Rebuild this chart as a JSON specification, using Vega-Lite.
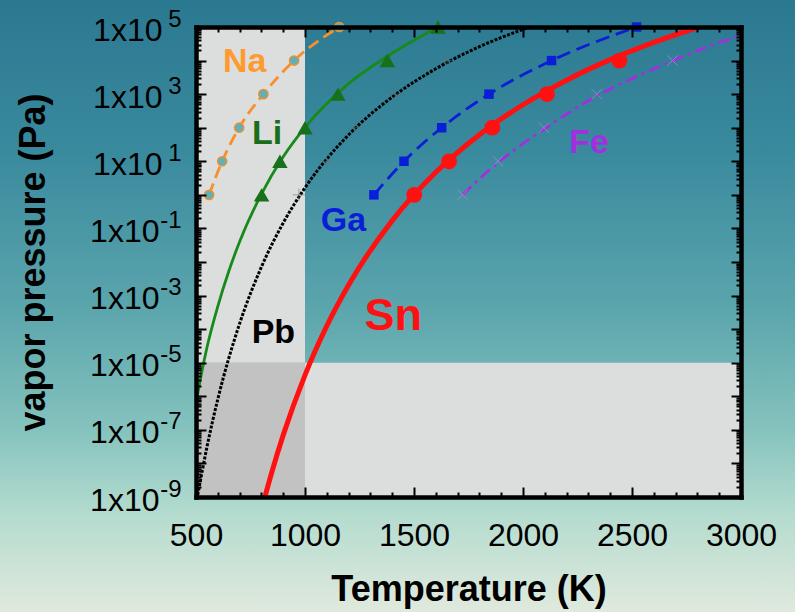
{
"$schema":"https://vega.github.io/schema/vega-lite/v6.json",
"width":545,"height":470,
"autosize":{"type":"none"},
"padding":{"left":196,"top":27,"right":54,"bottom":115},
"background":"#5ca6ad",
"config":{"font":"Liberation Sans","view":{"stroke":null},"axis":{"zindex":2,"grid":false,"labelColor":"black","titleColor":"black","tickColor":"black","domainColor":"black"}},
"resolve":{"axis":{"x":"independent","y":"independent"},"scale":{"color":"independent"}},
"datasets":{
"bg":[{"part":"backdrop"}],
"shade":[
{"zone":"light","T1":500,"T2":1000,"P1":1e-5,"P2":1e5},
{"zone":"light","T1":1000,"T2":3000,"P1":1e-9,"P2":1e-5},
{"zone":"dark","T1":500,"T2":1000,"P1":1e-9,"P2":1e-5}],
"lines":[
{"s":"Na","T":560,"P":1},{"s":"Na","T":620,"P":10},{"s":"Na","T":698,"P":100},{"s":"Na","T":809,"P":1000},{"s":"Na","T":950,"P":10000},{"s":"Na","T":1157,"P":100000},
{"s":"Li","T":500,"P":6e-7},{"s":"Li","T":520,"P":3.2e-6},{"s":"Li","T":550,"P":2.8e-5},{"s":"Li","T":600,"P":4.8e-4},{"s":"Li","T":650,"P":5.2e-3},{"s":"Li","T":700,"P":0.04},{"s":"Li","T":800,"P":1.05},{"s":"Li","T":900,"P":13.6},{"s":"Li","T":1000,"P":102},{"s":"Li","T":1200,"P":2050},{"s":"Li","T":1400,"P":16500},{"s":"Li","T":1610,"P":100000},
{"s":"Pb","T":508,"P":1.15e-9},{"s":"Pb","T":550,"P":3.03e-8},{"s":"Pb","T":600,"P":8.2e-7},{"s":"Pb","T":700,"P":1.46e-4},{"s":"Pb","T":800,"P":7.1e-3},{"s":"Pb","T":900,"P":0.146},{"s":"Pb","T":1000,"P":1.63},{"s":"Pb","T":1200,"P":61.4},{"s":"Pb","T":1400,"P":819},{"s":"Pb","T":1600,"P":5700},{"s":"Pb","T":1800,"P":25900},{"s":"Pb","T":2030,"P":100000},
{"s":"Ga","T":1316,"P":1},{"s":"Ga","T":1454,"P":10},{"s":"Ga","T":1627,"P":100},{"s":"Ga","T":1844,"P":1000},{"s":"Ga","T":2131,"P":10000},{"s":"Ga","T":2521,"P":100000},
{"s":"Sn","T":816,"P":1e-9},{"s":"Sn","T":850,"P":6.17e-9},{"s":"Sn","T":900,"P":6.97e-8},{"s":"Sn","T":1000,"P":4.29e-6},{"s":"Sn","T":1100,"P":1.25e-4},{"s":"Sn","T":1200,"P":2.07e-3},{"s":"Sn","T":1400,"P":0.171},{"s":"Sn","T":1600,"P":4.69},{"s":"Sn","T":1800,"P":61.7},{"s":"Sn","T":2000,"P":483},{"s":"Sn","T":2200,"P":2610},{"s":"Sn","T":2400,"P":10640},{"s":"Sn","T":2600,"P":34900},{"s":"Sn","T":2800,"P":96600},{"s":"Sn","T":2810,"P":101400},
{"s":"Fe","T":1723,"P":1},{"s":"Fe","T":1885,"P":9.1},{"s":"Fe","T":2000,"P":33.5},{"s":"Fe","T":2096,"P":90},{"s":"Fe","T":2200,"P":255},{"s":"Fe","T":2338,"P":880},{"s":"Fe","T":2500,"P":2900},{"s":"Fe","T":2686,"P":9800},{"s":"Fe","T":2800,"P":19700},{"s":"Fe","T":3000,"P":56900}],
"pts":[
{"s":"Na","T":560,"P":1},{"s":"Na","T":620,"P":10},{"s":"Na","T":698,"P":100},{"s":"Na","T":809,"P":1000},{"s":"Na","T":950,"P":10000},{"s":"Na","T":1157,"P":100000},
{"s":"Li","T":801,"P":1},{"s":"Li","T":885,"P":10},{"s":"Li","T":1000,"P":100},{"s":"Li","T":1151,"P":1000},{"s":"Li","T":1378,"P":10000},{"s":"Li","T":1610,"P":100000},
{"s":"Pb","T":972,"P":1},{"s":"Pb","T":1100,"P":10},{"s":"Pb","T":1229,"P":100},{"s":"Pb","T":1413,"P":1000},{"s":"Pb","T":1652,"P":10000},{"s":"Pb","T":2030,"P":100000},
{"s":"Ga","T":1316,"P":1},{"s":"Ga","T":1454,"P":10},{"s":"Ga","T":1627,"P":100},{"s":"Ga","T":1844,"P":1000},{"s":"Ga","T":2131,"P":10000},{"s":"Ga","T":2521,"P":100000},
{"s":"Sn","T":1501,"P":1},{"s":"Sn","T":1661,"P":10},{"s":"Sn","T":1859,"P":100},{"s":"Sn","T":2110,"P":1000},{"s":"Sn","T":2442,"P":10000},
{"s":"Fe","T":1723,"P":1},{"s":"Fe","T":1885,"P":10},{"s":"Fe","T":2096,"P":100},{"s":"Fe","T":2338,"P":1000},{"s":"Fe","T":2686,"P":10000}],
"labels":[
{"name":"Na","T":723,"P":9250},
{"name":"Li","T":826,"P":64},
{"name":"Pb","T":855,"P":7.7e-5},
{"name":"Ga","T":1176,"P":0.169},
{"name":"Fe","T":2303,"P":35},
{"name":"Sn","T":1405,"P":2.5e-4}]
},
"layer":[
{"data":{"name":"bg"},
 "mark":{"type":"rect","clip":false,"zindex":0,"color":{"gradient":"linear","x1":0,"y1":0,"x2":0,"y2":1,"stops":[{"offset":0,"color":"#2a7890"},{"offset":0.25,"color":"#3a8a9e"},{"offset":0.5,"color":"#5ca6ad"},{"offset":0.68,"color":"#84c2bd"},{"offset":0.82,"color":"#b5dccf"},{"offset":1,"color":"#e9ece0"}]}},
 "encoding":{
  "x":{"datum":-500,"type":"quantitative","scale":{"domain":[500,3000],"nice":false,"zero":false},
   "axis":{"orient":"bottom","zindex":2,"values":[500,1000,1500,2000,2500,3000],"format":"d","ticks":false,"domain":false,"labelFontSize":32,"labelPadding":23,"labelFlush":false,"labelOverlap":false,"labelBound":false,"title":"Temperature (K)","titleFontSize":36,"titleFontWeight":"bold","titlePadding":21}},
  "x2":{"datum":3400},
  "y":{"datum":1e6,"type":"quantitative","scale":{"type":"log","domain":[1e-9,1e5],"nice":false},
   "axis":{"orient":"left","zindex":2,"values":[100000,1000,10,0.1,0.001,1e-5,1e-7,1e-9],"ticks":false,"domain":false,"labelExpr":"'1x10'","labelFontSize":32,"labelPadding":{"condition":{"test":"datum.value < 1","value":37},"value":34},"labelOffset":3,"labelAlign":"right","labelBaseline":"middle","labelFlush":false,"labelOverlap":false,"labelBound":false,"title":"vapor pressure (Pa)","titleFontSize":36,"titleFontWeight":"bold","titlePadding":37}},
  "y2":{"datum":1e-13}}},
{"data":{"name":"shade"},
 "mark":{"type":"rect"},
 "encoding":{
  "x":{"field":"T1","type":"quantitative","scale":{"domain":[500,3000],"nice":false,"zero":false},
   "axis":{"orient":"bottom","zindex":2,"values":[500,600,700,800,900,1000,1100,1200,1300,1400,1500,1600,1700,1800,1900,2000,2100,2200,2300,2400,2500,2600,2700,2800,2900,3000],"labels":false,"domain":true,"domainWidth":4.5,"domainCap":"square","tickWidth":2,"tickSize":{"condition":{"test":"datum.value % 500 === 0","value":-10},"value":-5},"title":null}},
  "x2":{"field":"T2"},
  "y":{"field":"P1","type":"quantitative","scale":{"type":"log","domain":[1e-9,1e5],"nice":false},
   "axis":{"orient":"left","zindex":2,"values":[100000,1000,10,0.1,0.001,1e-5,1e-7,1e-9],"ticks":false,"domain":false,"labelExpr":"(datum.value < 1 ? '-' : '') + abs(round(log(datum.value)/LN10))","labelFontSize":24,"labelPadding":15,"labelOffset":-8,"labelAlign":"right","labelBaseline":"middle","labelFlush":false,"labelOverlap":false,"labelBound":false,"title":null}},
  "y2":{"field":"P2"},
  "color":{"field":"zone","type":"nominal","scale":{"domain":["light","dark"],"range":["#dcdedd","#c2c2c2"]},"legend":null}}},
{"data":{"name":"lines"},"transform":[{"filter":"datum.s === 'Na'"}],
 "mark":{"type":"line","color":"#f7902a","strokeWidth":2.8,"strokeDash":[12,6],"interpolate":"monotone","clip":true},
 "encoding":{"x":{"field":"T","type":"quantitative","scale":{"domain":[500,3000],"nice":false,"zero":false},"axis":null},"y":{"field":"P","type":"quantitative","scale":{"type":"log","domain":[1e-9,1e5],"nice":false},"axis":null},"order":{"field":"T"}}},
{"data":{"name":"lines"},"transform":[{"filter":"datum.s === 'Li'"}],
 "mark":{"type":"line","color":"#178a1a","strokeWidth":2.8,"interpolate":"monotone","clip":true},
 "encoding":{"x":{"field":"T","type":"quantitative","scale":{"domain":[500,3000],"nice":false,"zero":false},"axis":null},"y":{"field":"P","type":"quantitative","scale":{"type":"log","domain":[1e-9,1e5],"nice":false},"axis":null},"order":{"field":"T"}}},
{"data":{"name":"lines"},"transform":[{"filter":"datum.s === 'Pb'"}],
 "mark":{"type":"line","color":"#000000","strokeWidth":3,"strokeDash":[3,1.5],"interpolate":"monotone","clip":true},
 "encoding":{"x":{"field":"T","type":"quantitative","scale":{"domain":[500,3000],"nice":false,"zero":false},"axis":null},"y":{"field":"P","type":"quantitative","scale":{"type":"log","domain":[1e-9,1e5],"nice":false},"axis":null},"order":{"field":"T"}}},
{"data":{"name":"lines"},"transform":[{"filter":"datum.s === 'Ga'"}],
 "mark":{"type":"line","color":"#0a1ed8","strokeWidth":2.8,"strokeDash":[14,7],"interpolate":"monotone","clip":true},
 "encoding":{"x":{"field":"T","type":"quantitative","scale":{"domain":[500,3000],"nice":false,"zero":false},"axis":null},"y":{"field":"P","type":"quantitative","scale":{"type":"log","domain":[1e-9,1e5],"nice":false},"axis":null},"order":{"field":"T"}}},
{"data":{"name":"lines"},"transform":[{"filter":"datum.s === 'Sn'"}],
 "mark":{"type":"line","color":"#ff1111","strokeWidth":5,"interpolate":"monotone","clip":true},
 "encoding":{"x":{"field":"T","type":"quantitative","scale":{"domain":[500,3000],"nice":false,"zero":false},
   "axis":{"orient":"top","zindex":2,"values":[500,600,700,800,900,1000,1100,1200,1300,1400,1500,1600,1700,1800,1900,2000,2100,2200,2300,2400,2500,2600,2700,2800,2900,3000],"labels":false,"domain":true,"domainWidth":4.5,"domainCap":"square","tickWidth":2,"tickSize":{"condition":{"test":"datum.value % 500 === 0","value":-10},"value":-5},"title":null}},
  "y":{"field":"P","type":"quantitative","scale":{"type":"log","domain":[1e-9,1e5],"nice":false},
   "axis":{"orient":"left","zindex":2,"values":[1e-9,2e-9,3e-9,4e-9,5e-9,6e-9,7e-9,8e-9,9e-9,1e-8,2e-8,3e-8,4e-8,5e-8,6e-8,7e-8,8e-8,9e-8,1e-7,2e-7,3e-7,4e-7,5e-7,6e-7,7e-7,8e-7,9e-7,1e-6,2e-6,3e-6,4e-6,5e-6,6e-6,7e-6,8e-6,9e-6,1e-5,2e-5,3e-5,4e-5,5e-5,6e-5,7e-5,8e-5,9e-5,1e-4,2e-4,3e-4,4e-4,5e-4,6e-4,7e-4,8e-4,9e-4,0.001,0.002,0.003,0.004,0.005,0.006,0.007,0.008,0.009,0.01,0.02,0.03,0.04,0.05,0.06,0.07,0.08,0.09,0.1,0.2,0.3,0.4,0.5,0.6,0.7,0.8,0.9,1,2,3,4,5,6,7,8,9,10,20,30,40,50,60,70,80,90,100,200,300,400,500,600,700,800,900,1000,2000,3000,4000,5000,6000,7000,8000,9000,10000,20000,30000,40000,50000,60000,70000,80000,90000,100000],"labels":false,"domain":true,"domainWidth":4.5,"domainCap":"square","tickWidth":2,"tickSize":{"condition":{"test":"abs(log(datum.value)/LN10 - round(log(datum.value)/LN10)) < 0.001","value":-10},"value":-5},"title":null}},
  "order":{"field":"T"}}},
{"data":{"name":"lines"},"transform":[{"filter":"datum.s === 'Fe'"}],
 "mark":{"type":"line","color":"#a32ee0","strokeWidth":2.8,"strokeDash":[12,5,3,5],"interpolate":"monotone","clip":true},
 "encoding":{"x":{"field":"T","type":"quantitative","scale":{"domain":[500,3000],"nice":false,"zero":false},"axis":null},"y":{"field":"P","type":"quantitative","scale":{"type":"log","domain":[1e-9,1e5],"nice":false},"axis":null},"order":{"field":"T"}}},
{"data":{"name":"pts"},"transform":[{"filter":"datum.s === 'Pb'"}],
 "mark":{"type":"point","shape":"M-1,0L1,0M0,-1L0,1","size":150,"filled":false,"stroke":"#6e6e6e","strokeWidth":1,"opacity":0.6},
 "encoding":{"x":{"field":"T","type":"quantitative","scale":{"domain":[500,3000],"nice":false,"zero":false},"axis":null},"y":{"field":"P","type":"quantitative","scale":{"type":"log","domain":[1e-9,1e5],"nice":false},"axis":null}}},
{"data":{"name":"pts"},"transform":[{"filter":"datum.s === 'Fe'"}],
 "mark":{"type":"point","shape":"M-1,-1L1,1M-1,1L1,-1","size":110,"filled":false,"stroke":"#b58ad6","strokeWidth":1,"opacity":0.7},
 "encoding":{"x":{"field":"T","type":"quantitative","scale":{"domain":[500,3000],"nice":false,"zero":false},"axis":null},"y":{"field":"P","type":"quantitative","scale":{"type":"log","domain":[1e-9,1e5],"nice":false},"axis":null}}},
{"data":{"name":"pts"},"transform":[{"filter":"datum.s === 'Na'"}],
 "mark":{"type":"point","shape":"circle","size":85,"filled":true,"fill":"#5fb0bd","stroke":"#f0902a","strokeWidth":1.5,"opacity":1},
 "encoding":{"x":{"field":"T","type":"quantitative","scale":{"domain":[500,3000],"nice":false,"zero":false},"axis":null},"y":{"field":"P","type":"quantitative","scale":{"type":"log","domain":[1e-9,1e5],"nice":false},"axis":null}}},
{"data":{"name":"pts"},"transform":[{"filter":"datum.s === 'Li'"}],
 "mark":{"type":"point","shape":"triangle-up","size":240,"filled":true,"color":"#17701a","opacity":1},
 "encoding":{"x":{"field":"T","type":"quantitative","scale":{"domain":[500,3000],"nice":false,"zero":false},"axis":null},"y":{"field":"P","type":"quantitative","scale":{"type":"log","domain":[1e-9,1e5],"nice":false},"axis":null}}},
{"data":{"name":"pts"},"transform":[{"filter":"datum.s === 'Ga'"}],
 "mark":{"type":"point","shape":"square","size":90,"filled":true,"color":"#0a1ed8","opacity":1},
 "encoding":{"x":{"field":"T","type":"quantitative","scale":{"domain":[500,3000],"nice":false,"zero":false},"axis":null},"y":{"field":"P","type":"quantitative","scale":{"type":"log","domain":[1e-9,1e5],"nice":false},"axis":null}}},
{"data":{"name":"pts"},"transform":[{"filter":"datum.s === 'Sn'"}],
 "mark":{"type":"point","shape":"circle","size":250,"filled":true,"color":"#ff1111","opacity":1},
 "encoding":{"x":{"field":"T","type":"quantitative","scale":{"domain":[500,3000],"nice":false,"zero":false},"axis":null},"y":{"field":"P","type":"quantitative","scale":{"type":"log","domain":[1e-9,1e5],"nice":false},"axis":null}}},
{"data":{"name":"labels"},"transform":[{"filter":"datum.name !== 'Sn'"}],
 "mark":{"type":"text","fontWeight":"bold","fontSize":34,"align":"center","baseline":"middle"},
 "encoding":{"x":{"field":"T","type":"quantitative","scale":{"domain":[500,3000],"nice":false,"zero":false},"axis":null},
  "y":{"field":"P","type":"quantitative","scale":{"type":"log","domain":[1e-9,1e5],"nice":false},
   "axis":{"orient":"right","zindex":2,"values":[1e-9,2e-9,3e-9,4e-9,5e-9,6e-9,7e-9,8e-9,9e-9,1e-8,2e-8,3e-8,4e-8,5e-8,6e-8,7e-8,8e-8,9e-8,1e-7,2e-7,3e-7,4e-7,5e-7,6e-7,7e-7,8e-7,9e-7,1e-6,2e-6,3e-6,4e-6,5e-6,6e-6,7e-6,8e-6,9e-6,1e-5,2e-5,3e-5,4e-5,5e-5,6e-5,7e-5,8e-5,9e-5,1e-4,2e-4,3e-4,4e-4,5e-4,6e-4,7e-4,8e-4,9e-4,0.001,0.002,0.003,0.004,0.005,0.006,0.007,0.008,0.009,0.01,0.02,0.03,0.04,0.05,0.06,0.07,0.08,0.09,0.1,0.2,0.3,0.4,0.5,0.6,0.7,0.8,0.9,1,2,3,4,5,6,7,8,9,10,20,30,40,50,60,70,80,90,100,200,300,400,500,600,700,800,900,1000,2000,3000,4000,5000,6000,7000,8000,9000,10000,20000,30000,40000,50000,60000,70000,80000,90000,100000],"labels":false,"domain":true,"domainWidth":4.5,"domainCap":"square","tickWidth":2,"tickSize":{"condition":{"test":"abs(log(datum.value)/LN10 - round(log(datum.value)/LN10)) < 0.001","value":-10},"value":-5},"title":null}},
  "text":{"field":"name","type":"nominal"},
  "color":{"field":"name","type":"nominal","scale":{"domain":["Na","Li","Pb","Ga","Fe"],"range":["#ff9a2e","#1a6e1a","#000000","#0a1ed8","#a32ee0"]},"legend":null}}},
{"data":{"name":"labels"},"transform":[{"filter":"datum.name === 'Sn'"}],
 "mark":{"type":"text","fontWeight":"bold","fontSize":45,"align":"center","baseline":"middle","color":"#ff1111"},
 "encoding":{"x":{"field":"T","type":"quantitative","scale":{"domain":[500,3000],"nice":false,"zero":false},"axis":null},"y":{"field":"P","type":"quantitative","scale":{"type":"log","domain":[1e-9,1e5],"nice":false},"axis":null},"text":{"field":"name","type":"nominal"}}}
]
}
